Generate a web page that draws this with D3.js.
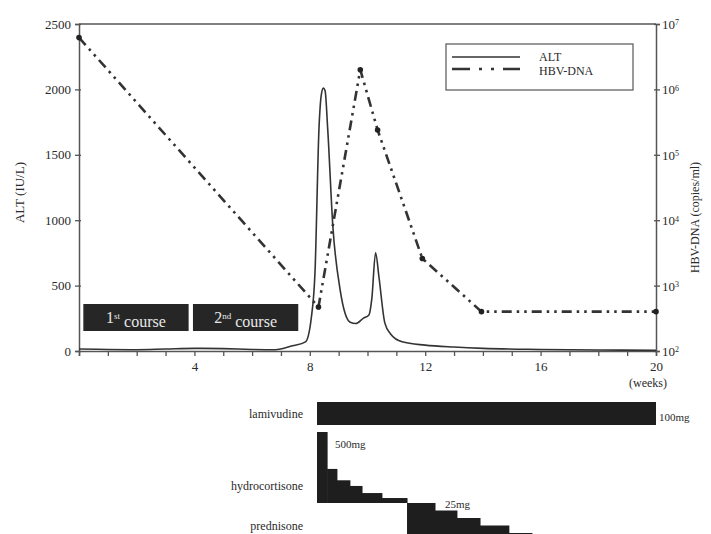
<!DOCTYPE html>
<html>
<head>
<meta charset="utf-8">
<script src="https://cdn.jsdelivr.net/npm/d3@7"></script>
<style>
  body { margin: 0; background: #fff; }
  text { font-family: "Liberation Serif", "DejaVu Serif", serif; fill: #2a2a2a; }
</style>
</head>
<body>
<div id="chart"></div>
<script>
// ALT (IU/L) over weeks
const altWeeks = [0, 1, 2, 3, 4, 5, 6, 6.8, 7.4, 7.85, 8.05, 8.18, 8.32, 8.4, 8.47, 8.53, 8.62, 8.8, 9.05, 9.22, 9.4, 9.6, 9.85, 10.05, 10.15, 10.28, 10.4, 10.6, 10.8, 11.2, 12, 13, 14, 16, 18, 20];
const altValues = [15, 12, 10, 15, 20, 18, 12, 10, 40, 70, 250, 600, 1710, 1960, 2010, 1990, 1700, 950, 470, 290, 220, 210, 250, 275, 400, 750, 560, 215, 130, 70, 45, 30, 20, 12, 8, 5];

// HBV-DNA (copies/ml) measurements
const dnaWeeks = [0, 8.3, 9.75, 10.35, 11.9, 13.95, 20];
const dnaValues = [6.2e6, 470, 2.0e6, 2.4e5, 2600, 400, 400];

// treatment courses
const courseSup = ["st", "nd"];
const courseStart = [0.15, 3.95];
const courseEnd = [3.8, 7.6];

// drugs
const lamiStart = 8.25, lamiEnd = 20, lamiDose = 100;
const hydroStart = [8.25, 8.6, 8.94, 9.39, 9.81, 10.5];
const hydroDose = [500, 240, 160, 120, 70, 35];
const hydroEnd = 11.37;
const predStart = [11.37, 12.34, 13.1, 13.9, 14.9];
const predDose = [25, 20, 15, 10, 5];
const predEnd = 15.7;

// tick labels
const altTicks = [0, 500, 1000, 1500, 2000, 2500];
const dnaTicks = [2, 3, 4, 5, 6, 7];
const weekLabels = [4, 8, 12, 16, 20];

const width = 711, height = 534;
const plot = { left: 79, right: 656, top: 24, bottom: 351 };

const svg = d3.select("#chart").append("svg")
  .attr("width", width)
  .attr("height", height);

const x = d3.scaleLinear().domain([0, 20]).range([plot.left, plot.right]);
const yAlt = d3.scaleLinear().domain([0, 2500]).range([plot.bottom, plot.top]);
const yDna = d3.scaleLog().domain([100, 1e7]).range([plot.bottom, plot.top]);

const axisColor = "#555";

// frame: top border line
svg.append("line")
  .attr("x1", plot.left).attr("x2", plot.right)
  .attr("y1", plot.top).attr("y2", plot.top)
  .attr("stroke", axisColor).attr("stroke-width", 1.5);

// left axis
const gl = svg.append("g").attr("transform", `translate(${plot.left},0)`)
  .call(d3.axisLeft(yAlt).tickValues(altTicks).tickFormat(d3.format("d")).tickSize(4).tickPadding(4));
gl.selectAll("text").attr("font-size", 13).style("font-family", "Liberation Serif");

// right axis (log)
const gr = svg.append("g").attr("transform", `translate(${plot.right},0)`)
  .call(d3.axisRight(yDna).tickValues(dnaTicks.map(p => Math.pow(10, p))).tickSize(4).tickPadding(4).tickFormat(""));
gr.selectAll(".tick").each(function (d, i) {
  const t = d3.select(this).append("text")
    .attr("x", 6).attr("dy", "0.35em")
    .attr("text-anchor", "start")
    .attr("font-size", 13);
  t.append("tspan").text("10");
  t.append("tspan").attr("dy", "-0.45em").attr("font-size", 8).text(dnaTicks[i]);
});

// bottom axis
const gb = svg.append("g").attr("transform", `translate(0,${plot.bottom})`)
  .call(d3.axisBottom(x).tickValues(d3.range(0, 21)).tickSize(5).tickPadding(6)
    .tickFormat(d => weekLabels.includes(d) ? d : ""));
gb.selectAll("text").attr("font-size", 13).style("font-family", "Liberation Serif");

[gl, gr, gb].forEach(g => {
  g.select(".domain").attr("stroke", axisColor).attr("stroke-width", 1.5);
  g.selectAll(".tick line").attr("stroke", axisColor).attr("stroke-width", 1.3);
  g.selectAll("text").attr("fill", "#2a2a2a");
});
gl.selectAll(".tick line").attr("x2", 2).attr("x1", -4);
gr.selectAll(".tick line").attr("x1", -2);

svg.append("text")
  .attr("x", x(20) - 8).attr("y", 387)
  .attr("text-anchor", "middle").attr("font-size", 12)
  .text("(weeks)");

// axis titles
svg.append("text")
  .attr("transform", `translate(24,${(plot.top + plot.bottom) / 2 + 5}) rotate(-90)`)
  .attr("text-anchor", "middle").attr("font-size", 13)
  .text("ALT (IU/L)");
svg.append("text")
  .attr("transform", `translate(699,${(plot.top + plot.bottom) / 2 + 30}) rotate(-90)`)
  .attr("text-anchor", "middle").attr("font-size", 12)
  .text("HBV-DNA (copies/ml)");

// course boxes
const courseY = 304, courseH = 27;
courseStart.forEach((s, i) => {
  svg.append("rect")
    .attr("x", x(s)).attr("y", courseY)
    .attr("width", x(courseEnd[i]) - x(s)).attr("height", courseH)
    .attr("fill", "#262626");
  const t = svg.append("text")
    .attr("x", (x(s) + x(courseEnd[i])) / 2).attr("y", courseY + 19)
    .attr("text-anchor", "middle").attr("font-size", 16)
    .style("fill", "#e8e8e8");
  t.append("tspan").text(i + 1);
  t.append("tspan").attr("dy", "-0.5em").attr("font-size", 9).text(courseSup[i]);
  t.append("tspan").attr("dy", "0.5em").text(" course");
});

// ALT line
const altLine = d3.line()
  .x((d, i) => x(altWeeks[i]))
  .y(d => yAlt(d))
  .curve(d3.curveMonotoneX);
svg.append("path")
  .datum(altValues)
  .attr("d", altLine)
  .attr("fill", "none")
  .attr("stroke", "#333")
  .attr("stroke-width", 1.6);

// HBV-DNA line
const dash = "10,5,2.5,5,2.5,5";
const dnaLine = d3.line()
  .x((d, i) => x(dnaWeeks[i]))
  .y(d => yDna(d));
svg.append("path")
  .datum(dnaValues)
  .attr("d", dnaLine)
  .attr("fill", "none")
  .attr("stroke", "#333")
  .attr("stroke-width", 2.6)
  .attr("stroke-dasharray", dash);
svg.selectAll(".dna-pt")
  .data(dnaValues)
  .enter()
  .append("circle")
  .attr("cx", (d, i) => x(dnaWeeks[i]))
  .attr("cy", d => yDna(d))
  .attr("r", 2.8)
  .attr("fill", "#222");

// legend
svg.append("rect")
  .attr("x", 446).attr("y", 44).attr("width", 187).attr("height", 46)
  .attr("fill", "#fff").attr("stroke", "#555").attr("stroke-width", 1.2);
svg.append("line")
  .attr("x1", 452).attr("x2", 520).attr("y1", 57).attr("y2", 57)
  .attr("stroke", "#333").attr("stroke-width", 1.6);
svg.append("line")
  .attr("x1", 452).attr("x2", 520).attr("y1", 69).attr("y2", 69)
  .attr("stroke", "#333").attr("stroke-width", 2.6)
  .attr("stroke-dasharray", "18,9,3,9,3,9");
svg.append("text").attr("x", 539).attr("y", 61).attr("font-size", 12).text("ALT");
svg.append("text").attr("x", 539).attr("y", 75).attr("font-size", 12).text("HBV-DNA");

// ---------------- drug bars ----------------
const drugFill = "#1e1e1e";

// lamivudine
svg.append("rect")
  .attr("x", x(lamiStart)).attr("y", 402)
  .attr("width", x(lamiEnd) - x(lamiStart)).attr("height", 23)
  .attr("fill", drugFill);
svg.append("text").attr("x", x(lamiEnd) + 3).attr("y", 421).attr("font-size", 11)
  .text(lamiDose + "mg");

// hydrocortisone steps
const hydroBase = 503;
const hScale = d3.scaleLinear().domain([0, 500]).range([0, 71]);
svg.selectAll(".hydro")
  .data(hydroDose)
  .enter()
  .append("rect")
  .attr("x", (d, i) => x(hydroStart[i]))
  .attr("y", d => hydroBase - hScale(d))
  .attr("width", (d, i) => x(i < hydroStart.length - 1 ? hydroStart[i + 1] : hydroEnd) - x(hydroStart[i]) + 0.5)
  .attr("height", d => hScale(d))
  .attr("fill", drugFill);
svg.append("text").attr("x", 335).attr("y", 448).attr("font-size", 11)
  .text(hydroDose[0] + "mg");

// prednisone steps
const predBase = 540.5;
const pScale = d3.scaleLinear().domain([0, 25]).range([0, 37.5]);
svg.selectAll(".pred")
  .data(predDose)
  .enter()
  .append("rect")
  .attr("x", (d, i) => x(predStart[i]))
  .attr("y", d => predBase - pScale(d))
  .attr("width", (d, i) => x(i < predStart.length - 1 ? predStart[i + 1] : predEnd) - x(predStart[i]) + 0.5)
  .attr("height", d => pScale(d))
  .attr("fill", drugFill);
svg.append("text").attr("x", 445).attr("y", 508).attr("font-size", 11)
  .text(predDose[0] + "mg");

// drug names
const drugNames = ["lamivudine", "hydrocortisone", "prednisone"];
const drugY = [418, 490, 530];
drugNames.forEach((n, i) => {
  svg.append("text")
    .attr("x", 303).attr("y", drugY[i])
    .attr("text-anchor", "end").attr("font-size", 12)
    .text(n);
});
</script>
</body>
</html>
